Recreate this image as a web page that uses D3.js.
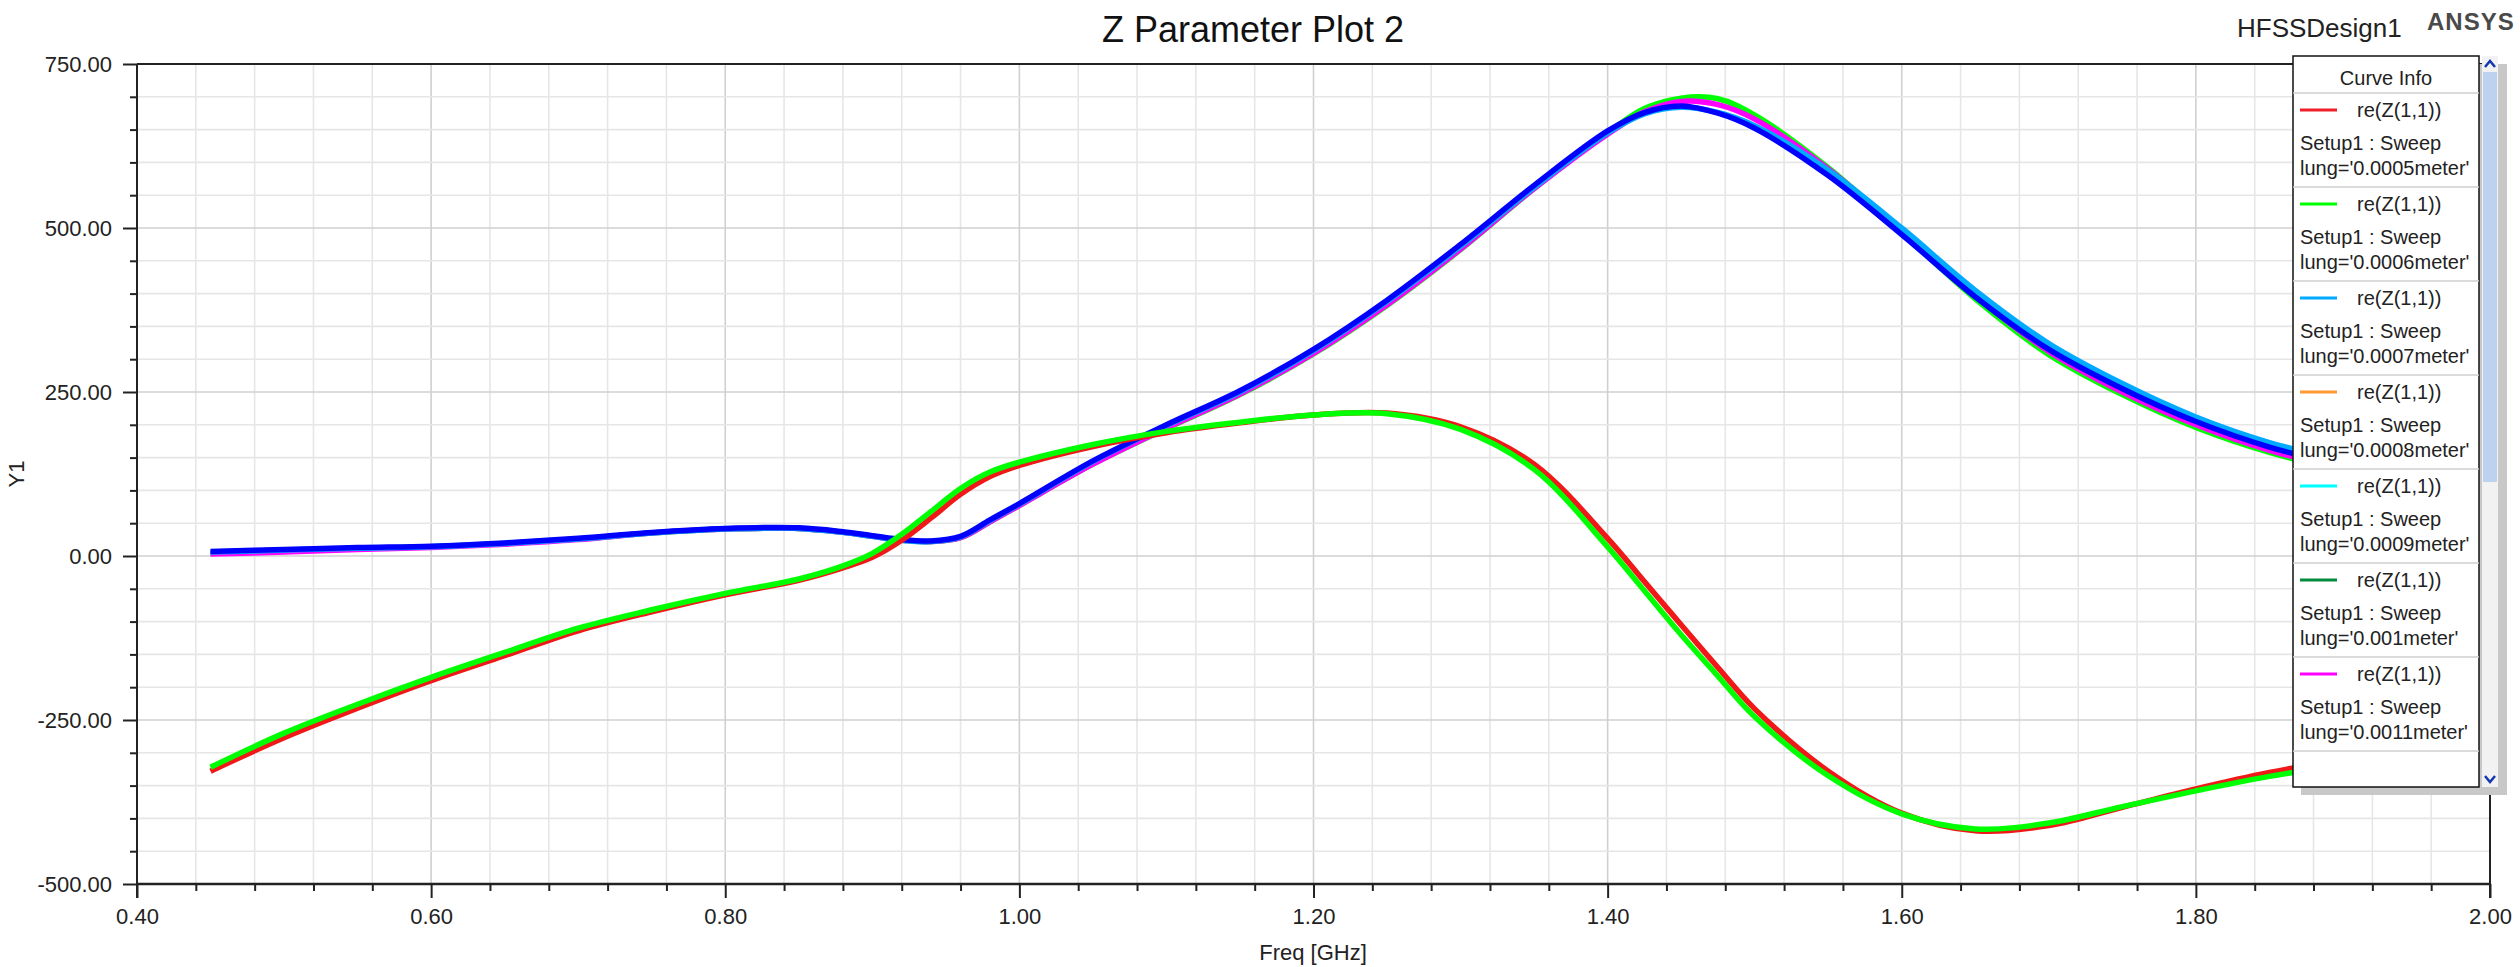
<!DOCTYPE html>
<html>
<head>
<meta charset="utf-8">
<script src="https://cdn.jsdelivr.net/npm/d3@7"></script>
<style>
  html, body { margin: 0; padding: 0; background: #fff; }
  svg { display: block; }
  text { font-family: "Liberation Sans", Arial, sans-serif; }
</style>
</head>
<body>
<svg id="chart" width="2520" height="967"></svg>
<script>
// ---------------- data ----------------
const freqs = [0.45,0.50,0.55,0.60,0.65,0.70,0.75,0.80,0.85,0.88,0.90,0.92,0.94,0.96,0.98,1.00,1.05,1.10,1.15,1.20,1.25,1.30,1.35,1.40,1.425,1.45,1.475,1.50,1.55,1.60,1.65,1.70,1.75,1.80,1.85,1.90,1.95,2.00];

const upperGreen   = [4,7,11,14,19,26,35,41,42, 36,30,24,22,28,52, 77,140,194,246,308,382,467,560,645, 682,698,697,672, 592,493,392,307,246,196,158,130,107,90];
const upperMagenta = [3,6,10,13,18,25,35,41,42, 36,30,24,22,28,52, 77,140,195,247,309,383,468,560,643, 677,693,688,666, 590,495,396,312,250,200,161,133,110,93];
const upperSky     = [6,9,12,14,19,26,35,41,42, 36,30,24,22,29,54, 79,144,199,250,313,388,472,562,645, 674,684,676,656, 588,500,405,324,263,212,173,145,122,104];
const upperBlue    = [7,10,13,15,20,27,36,42,43, 37,31,25,23,30,55, 80,145,200,252,315,390,475,565,648, 676,686,675,652, 580,490,395,315,255,205,166,138,115,97];
const lowerRed     = [-328,-277,-232,-190,-152,-114,-85,-59,-37, -18,-2,24,58,94,121, 138,167,188,203,215,218,197,140,27, -39,-105,-170,-233, -328,-392,-419,-411,-383,-355,-330,-310,-291,-273];
const lowerGreen   = [-322,-270,-226,-185,-147,-110,-82,-57,-35, -15,4,33,68,103,128, 143,170,190,204,215,217,193,132,14, -53,-120,-183,-245, -335,-393,-416,-407,-382,-358,-336,-318,-300,-283];

const plotSeries = [
  { values: upperGreen,   color: "#00ff00" },
  { values: upperMagenta, color: "#ff00ff" },
  { values: upperSky,     color: "#00aaff" },
  { values: upperBlue,    color: "#0000ff" },
  { values: lowerRed,     color: "#f01818" },
  { values: lowerGreen,   color: "#00ff00" }
];

const legendColors = ["#f0202a","#00ff00","#00aaff","#ff9933","#00ffff","#008c3c","#ff00ff"];
const legendLungs  = ["0.0005","0.0006","0.0007","0.0008","0.0009","0.001","0.0011"];

const xMajorTicks = [0.40,0.60,0.80,1.00,1.20,1.40,1.60,1.80,2.00];
const yMajorTicks = [-500,-250,0,250,500,750];

// ---------------- layout ----------------
const L = 137, R = 2490, T = 64, B = 884;
const svg = d3.select("#chart");
svg.append("rect").attr("width",2520).attr("height",967).attr("fill","#fff");

const fmt = d3.formatLocale({decimal: ".", thousands: ",", grouping: [3], currency: ["", ""], minus: "-"}).format(".2f");

const x = d3.scaleLinear().domain([0.40, 2.00]).range([L, R]);
const y = d3.scaleLinear().domain([-500, 750]).range([B, T]);

// grid
const xMinor = d3.range(0, 41).map(i => 0.40 + i * 0.04);
const yMinor = d3.range(0, 26).map(i => -500 + i * 50);
const isMajX = v => Math.abs(Math.round(v / 0.2) * 0.2 - v) < 1e-6;
const isMajY = v => v % 250 === 0;

const grid = svg.append("g");
grid.selectAll("line.vx").data(xMinor).enter().append("line")
  .attr("x1", d => x(d)).attr("x2", d => x(d)).attr("y1", T).attr("y2", B)
  .attr("stroke", d => isMajX(d) ? "#d0d0d0" : "#e6e6e6").attr("stroke-width", 1.6);
grid.selectAll("line.hy").data(yMinor).enter().append("line")
  .attr("y1", d => y(d)).attr("y2", d => y(d)).attr("x1", L).attr("x2", R)
  .attr("stroke", d => isMajY(d) ? "#d0d0d0" : "#e6e6e6").attr("stroke-width", 1.6);

// curves
svg.append("defs").append("clipPath").attr("id","clip")
  .append("rect").attr("x", L).attr("y", T).attr("width", R - L).attr("height", B - T);
const line = d3.line()
  .x((d, i) => x(freqs[i]))
  .y(d => y(d))
  .curve(d3.curveCatmullRom.alpha(0.5));
const curves = svg.append("g").attr("clip-path","url(#clip)");
plotSeries.forEach(s => {
  curves.append("path").attr("d", line(s.values))
    .attr("fill","none").attr("stroke", s.color).attr("stroke-width", 5.5)
    .attr("stroke-linejoin","round").attr("stroke-linecap","butt");
});

// axes
const axisColor = "#222";
const xAxis = d3.axisBottom(x).tickValues(xMajorTicks).tickFormat(fmt).tickSize(14).tickPadding(10);
const gx = svg.append("g").attr("transform", `translate(0,${B})`).call(xAxis);
gx.select(".domain").remove();
gx.selectAll(".tick line").attr("stroke", axisColor).attr("stroke-width", 2);
gx.selectAll(".tick text").attr("font-size", 22).attr("fill", "#222")
  .attr("font-family", "'Liberation Sans', Arial, sans-serif").attr("dy", "0.71em");

const xMinorAxis = d3.axisBottom(x).tickValues(xMinor.filter(d => !isMajX(d))).tickFormat("").tickSize(7);
const gxm = svg.append("g").attr("transform", `translate(0,${B})`).call(xMinorAxis);
gxm.select(".domain").remove();
gxm.selectAll(".tick line").attr("stroke", axisColor).attr("stroke-width", 2);

const yAxis = d3.axisLeft(y).tickValues(yMajorTicks).tickFormat(fmt).tickSize(14).tickPadding(11);
const gy = svg.append("g").attr("transform", `translate(${L},0)`).call(yAxis);
gy.select(".domain").remove();
gy.selectAll(".tick line").attr("stroke", axisColor).attr("stroke-width", 2);
gy.selectAll(".tick text").attr("font-size", 22).attr("fill", "#222")
  .attr("font-family", "'Liberation Sans', Arial, sans-serif");

const yMinorAxis = d3.axisLeft(y).tickValues(yMinor.filter(d => !isMajY(d))).tickFormat("").tickSize(7);
const gym = svg.append("g").attr("transform", `translate(${L},0)`).call(yMinorAxis);
gym.select(".domain").remove();
gym.selectAll(".tick line").attr("stroke", axisColor).attr("stroke-width", 2);

// frame
svg.append("line").attr("x1", L).attr("x2", L).attr("y1", T).attr("y2", B + 14).attr("stroke", axisColor).attr("stroke-width", 2);
svg.append("line").attr("x1", L).attr("x2", R).attr("y1", B).attr("y2", B).attr("stroke", axisColor).attr("stroke-width", 2.5);
svg.append("line").attr("x1", L).attr("x2", R).attr("y1", T).attr("y2", T).attr("stroke", axisColor).attr("stroke-width", 2);
svg.append("line").attr("x1", R).attr("x2", R).attr("y1", T).attr("y2", B + 14).attr("stroke", axisColor).attr("stroke-width", 2);

// titles
svg.append("text").attr("x", 1253).attr("y", 42).attr("text-anchor","middle")
  .attr("font-size", 36).attr("fill","#111").text("Z Parameter Plot 2");
svg.append("text").attr("x", 1313).attr("y", 960).attr("text-anchor","middle")
  .attr("font-size", 22).attr("fill","#222").text("Freq [GHz]");
svg.append("text").attr("transform","translate(24,474) rotate(-90)").attr("text-anchor","middle")
  .attr("font-size", 22).attr("fill","#222").text("Y1");
svg.append("text").attr("x", 2237).attr("y", 37).attr("font-size", 26).attr("fill","#222").text("HFSSDesign1");
svg.append("text").attr("x", 2427).attr("y", 30).attr("font-size", 24).attr("font-weight","bold")
  .attr("letter-spacing", 1).attr("fill","#4a4a4a").text("ANSYS");

// legend ("Curve Info")
const lgX = 2293, lgY = 56, lgW = 186, lgH = 731;
const lg = svg.append("g");
lg.append("rect").attr("x", lgX + 8).attr("y", lgY + 8).attr("width", lgW + 20).attr("height", lgH).attr("fill","#c8c8c8");
lg.append("rect").attr("x", lgX).attr("y", lgY).attr("width", lgW).attr("height", lgH)
  .attr("fill","#fff").attr("stroke","#111").attr("stroke-width", 1.5);
// scrollbar
const sbX = lgX + lgW + 3, sbW = 16;
lg.append("rect").attr("x", sbX).attr("y", lgY).attr("width", sbW).attr("height", lgH).attr("fill","#f2f2f2");
lg.append("rect").attr("x", sbX + 1).attr("y", lgY + 16).attr("width", sbW - 2).attr("height", 410).attr("fill","#bcd2ef");
lg.append("path").attr("d", `M${sbX+3},${lgY+11} L${sbX+8},${lgY+5} L${sbX+13},${lgY+11}`)
  .attr("fill","none").attr("stroke","#1538b0").attr("stroke-width", 2.5);
lg.append("path").attr("d", `M${sbX+3},${lgY+lgH-11} L${sbX+8},${lgY+lgH-5} L${sbX+13},${lgY+lgH-11}`)
  .attr("fill","none").attr("stroke","#1538b0").attr("stroke-width", 2.5);

lg.append("text").attr("x", lgX + lgW / 2).attr("y", lgY + 29).attr("text-anchor","middle")
  .attr("font-size", 20).attr("fill","#222").text("Curve Info");
lg.append("line").attr("x1", lgX).attr("x2", lgX + lgW).attr("y1", 93).attr("y2", 93).attr("stroke","#cfcfcf").attr("stroke-width", 1.5);

legendColors.forEach((c, i) => {
  const top = 93 + i * 94;
  const g = lg.append("g");
  g.append("line").attr("x1", 2300).attr("x2", 2337).attr("y1", top + 17).attr("y2", top + 17)
    .attr("stroke", c).attr("stroke-width", 3);
  g.append("text").attr("x", 2357).attr("y", top + 24).attr("font-size", 20).attr("fill","#222").text("re(Z(1,1))");
  g.append("text").attr("x", 2300).attr("y", top + 57).attr("font-size", 20).attr("fill","#222").text("Setup1 : Sweep");
  g.append("text").attr("x", 2300).attr("y", top + 82).attr("font-size", 20).attr("fill","#222").text(`lung='${legendLungs[i]}meter'`);
  g.append("line").attr("x1", lgX).attr("x2", lgX + lgW).attr("y1", top + 94).attr("y2", top + 94)
    .attr("stroke","#cfcfcf").attr("stroke-width", 1.5);
});
</script>
</body>
</html>
